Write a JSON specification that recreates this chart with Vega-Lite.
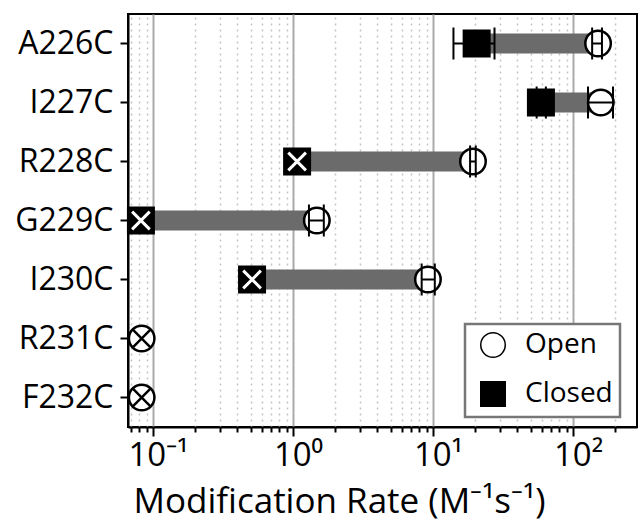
{
  "$schema": "https://vega.github.io/schema/vega-lite/v6.json",
  "width": 509,
  "height": 413,
  "autosize": "none",
  "padding": {"left": 128, "top": 14, "right": 2, "bottom": 96},
  "background": "white",
  "config": {
    "font": "Open Sans",
    "view": {"stroke": "black", "strokeWidth": 2},
    "legend": {"strokeWidth": 2.5, "strokeColor": "#777777"}
  },
  "datasets": {
    "rates": [
      {"mutant": "A226C", "state": "Closed", "rate": 20.5, "lo": 14, "hi": 27.5, "mark": "none"},
      {"mutant": "A226C", "state": "Open", "rate": 151, "lo": 137, "hi": 161, "mark": "none"},
      {"mutant": "I227C", "state": "Closed", "rate": 59, "lo": 55, "hi": 64, "mark": "none"},
      {"mutant": "I227C", "state": "Open", "rate": 158, "lo": 128, "hi": 193, "mark": "none"},
      {"mutant": "R228C", "state": "Closed", "rate": 1.07, "lo": null, "hi": null, "mark": "x"},
      {"mutant": "R228C", "state": "Open", "rate": 19.3, "lo": 18.4, "hi": 20.2, "mark": "none"},
      {"mutant": "G229C", "state": "Closed", "rate": 0.082, "lo": null, "hi": null, "mark": "x"},
      {"mutant": "G229C", "state": "Open", "rate": 1.48, "lo": 1.3, "hi": 1.66, "mark": "none"},
      {"mutant": "I230C", "state": "Closed", "rate": 0.51, "lo": null, "hi": null, "mark": "x"},
      {"mutant": "I230C", "state": "Open", "rate": 9.2, "lo": 8.3, "hi": 10.3, "mark": "none"},
      {"mutant": "R231C", "state": "Open", "rate": 0.083, "lo": null, "hi": null, "mark": "x"},
      {"mutant": "F232C", "state": "Open", "rate": 0.083, "lo": null, "hi": null, "mark": "x"}
    ],
    "bars": [
      {"mutant": "A226C", "closed": 20.5, "open": 151},
      {"mutant": "I227C", "closed": 59, "open": 158},
      {"mutant": "R228C", "closed": 1.07, "open": 19.3},
      {"mutant": "G229C", "closed": 0.082, "open": 1.48},
      {"mutant": "I230C", "closed": 0.51, "open": 9.2}
    ]
  },
  "resolve": {"axis": {"x": "independent"}},
  "encoding": {
    "y": {
      "field": "mutant",
      "type": "nominal",
      "sort": ["A226C", "I227C", "R228C", "G229C", "I230C", "R231C", "F232C"],
      "scale": {"type": "band", "paddingInner": 0, "paddingOuter": 0},
      "axis": {
        "title": null,
        "labelFontSize": 32,
        "labelColor": "black",
        "tickSize": 8,
        "tickWidth": 2,
        "tickColor": "black",
        "domainColor": "black",
        "domainWidth": 2,
        "labelPadding": 7,
        "grid": false
      }
    }
  },
  "layer": [
    {
      "data": {"name": "bars"},
      "mark": {"type": "bar", "height": 20, "color": "#6b6b6b"},
      "encoding": {
        "x": {
          "field": "closed",
          "type": "quantitative",
          "scale": {"type": "log", "domain": [0.0663, 286.5], "nice": false},
          "title": "Modification Rate (M⁻¹s⁻¹)",
          "axis": {
            "orient": "bottom",
            "values": [0.1, 1, 10, 100],
            "labelExpr": "datum.value == 0.1 ? '10⁻¹' : datum.value == 1 ? '10⁰' : datum.value == 10 ? '10¹' : '10²'",
            "labelOverlap": false,
            "labelFontSize": 33,
            "labelColor": "black",
            "labelPadding": 3,
            "labelOffset": 5,
            "grid": true,
            "gridColor": "#aaaaaa",
            "gridWidth": 2,
            "tickSize": 9,
            "tickColor": "black",
            "tickWidth": 2,
            "domainColor": "black",
            "domainWidth": 2,
            "titleFontSize": 35,
            "titleFontWeight": "normal",
            "titleColor": "black",
            "titlePadding": 12,
            "titleX": 211,
            "titleAlign": "center"
          }
        },
        "x2": {"field": "open"}
      }
    },
    {
      "data": {"name": "rates"},
      "mark": {"type": "point", "filled": true, "stroke": "black", "strokeWidth": 2.5, "size": 650, "opacity": 1},
      "encoding": {
        "x": {
          "field": "rate",
          "type": "quantitative",
          "scale": {"type": "log", "domain": [0.0663, 286.5], "nice": false},
          "axis": {
            "orient": "bottom",
            "title": null,
            "values": [0.07, 0.08, 0.09, 0.2, 0.3, 0.4, 0.5, 0.6, 0.7, 0.8, 0.9, 2, 3, 4, 5, 6, 7, 8, 9, 20, 30, 40, 50, 60, 70, 80, 90, 200],
            "labels": false,
            "domain": false,
            "grid": true,
            "gridColor": "#c4c4c4",
            "gridDash": [2, 4],
            "gridWidth": 1.5,
            "tickSize": 5,
            "tickColor": "black",
            "tickWidth": 2
          }
        },
        "shape": {
          "field": "state",
          "type": "nominal",
          "scale": {"domain": ["Open", "Closed"], "range": ["circle", "square"]},
          "legend": {
            "title": null,
            "orient": "none",
            "legendX": 337,
            "legendY": 310,
            "labelFontSize": 28,
            "labelColor": "black",
            "labelExpr": "datum.label + '\u2003'",
            "symbolSize": 600,
            "strokeColor": "#777777",
            "fillColor": "white",
            "padding": 7,
            "rowPadding": 17,
            "symbolOffset": 7,
            "labelOffset": 18,
            "encode": {
              "symbols": {"update": {"stroke": {"value": "black"}, "strokeWidth": {"value": 2.5}}},
              "legend": {"update": {"stroke": {"value": "#777777"}, "strokeWidth": {"value": 2.5}}}
            }
          }
        },
        "fill": {
          "field": "state",
          "type": "nominal",
          "scale": {"domain": ["Open", "Closed"], "range": ["white", "black"]},
          "legend": {
            "title": null,
            "orient": "none",
            "legendX": 337,
            "legendY": 310,
            "labelFontSize": 28,
            "labelColor": "black",
            "labelExpr": "datum.label + '\u2003'",
            "symbolSize": 600,
            "strokeColor": "#777777",
            "fillColor": "white",
            "padding": 7,
            "rowPadding": 17,
            "symbolOffset": 7,
            "labelOffset": 18,
            "encode": {
              "symbols": {"update": {"stroke": {"value": "black"}, "strokeWidth": {"value": 2.5}}},
              "legend": {"update": {"stroke": {"value": "#777777"}, "strokeWidth": {"value": 2.5}}}
            }
          }
        }
      }
    },
    {
      "data": {"name": "rates"},
      "transform": [{"filter": "datum.mark === 'x'"}],
      "mark": {"type": "point", "shape": "M-0.72,-0.72L0.72,0.72M-0.72,0.72L0.72,-0.72", "filled": false, "size": 600, "opacity": 1},
      "encoding": {
        "x": {"field": "rate", "type": "quantitative", "scale": {"type": "log", "domain": [0.0663, 286.5], "nice": false}, "axis": null},
        "stroke": {"condition": {"test": "datum.state === 'Closed'", "value": "white"}, "value": "black"},
        "strokeWidth": {"condition": {"test": "datum.state === 'Closed'", "value": 3}, "value": 2.5}
      }
    },
    {
      "data": {"name": "rates"},
      "transform": [{"filter": "isValid(datum.lo)"}],
      "mark": {"type": "rule", "color": "black", "strokeWidth": 2},
      "encoding": {
        "x": {"field": "lo", "type": "quantitative", "scale": {"type": "log", "domain": [0.0663, 286.5], "nice": false}, "axis": null},
        "x2": {"field": "hi"}
      }
    },
    {
      "data": {"name": "rates"},
      "transform": [{"filter": "isValid(datum.lo)"}],
      "mark": {"type": "tick", "color": "black", "thickness": 2, "size": 32, "opacity": 1},
      "encoding": {
        "x": {"field": "lo", "type": "quantitative", "scale": {"type": "log", "domain": [0.0663, 286.5], "nice": false}, "axis": null}
      }
    },
    {
      "data": {"name": "rates"},
      "transform": [{"filter": "isValid(datum.hi)"}],
      "mark": {"type": "tick", "color": "black", "thickness": 2, "size": 32, "opacity": 1},
      "encoding": {
        "x": {"field": "hi", "type": "quantitative", "scale": {"type": "log", "domain": [0.0663, 286.5], "nice": false}, "axis": null}
      }
    }
  ]
}
